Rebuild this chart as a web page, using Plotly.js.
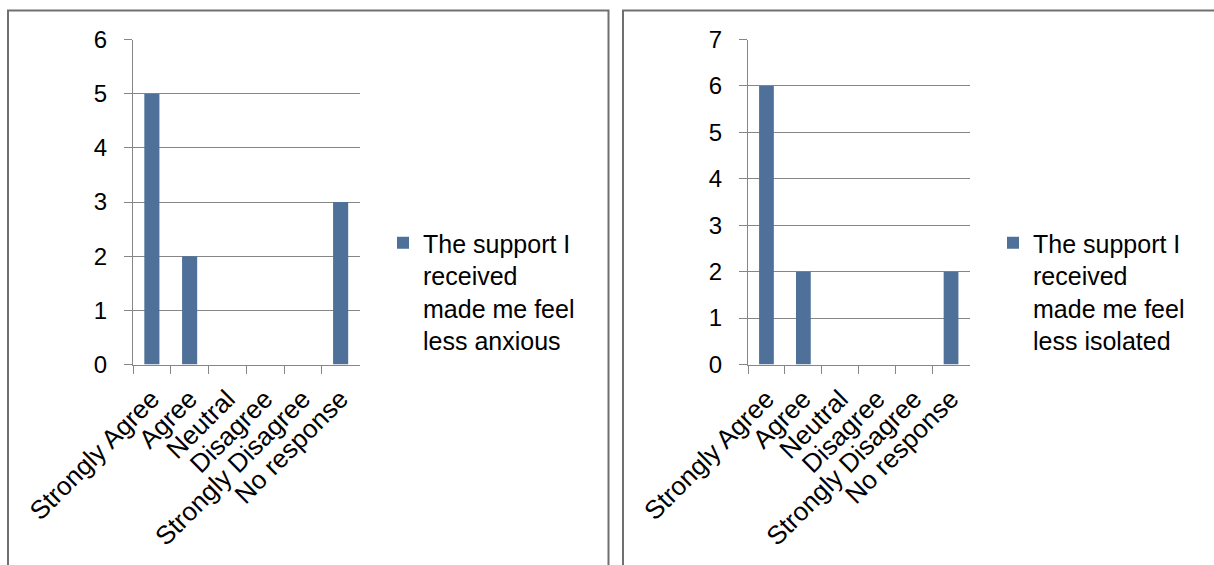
<!DOCTYPE html>
<html>
<head>
<meta charset="utf-8">
<script src="https://cdn.plot.ly/plotly-3.0.1.min.js"></script>
<style>html,body{margin:0;padding:0;background:#fff;}#chart{width:1214px;height:565px;}</style>
</head>
<body>
<div id="chart"></div>
<script>
var categories = ["Strongly Agree", "Agree", "Neutral", "Disagree", "Strongly Disagree", "No response"];
var anxiousValues = [5, 2, 0, 0, 0, 3];
var isolatedValues = [6, 2, 0, 0, 0, 2];
var anxiousName = "The support I<br>received<br>made me feel<br>less anxious";
var isolatedName = "The support I<br>received<br>made me feel<br>less isolated";
var leftTicks = [0, 1, 2, 3, 4, 5, 6];
var rightTicks = [0, 1, 2, 3, 4, 5, 6, 7];

var W = 1214, H = 565;
var barColor = "#4F7199";
var gridColor = "#868686";
var FAMILY = "Liberation Sans, Arial, sans-serif";
function f(size) { return {family: FAMILY, size: size, color: "#000"}; }

function px(x) { return x / W; }
function py(y) { return 1 - y / H; }

var traces = [
  {type: "bar", x: categories, y: anxiousValues, name: anxiousName, marker: {color: barColor},
   xaxis: "x", yaxis: "y", legend: "legend", width: 0.4, hoverinfo: "x+y"},
  {type: "bar", x: categories, y: isolatedValues, name: isolatedName, marker: {color: barColor},
   xaxis: "x2", yaxis: "y2", legend: "legend2", width: 0.4, hoverinfo: "x+y"}
];

function xax(domain, anchor) {
  return {domain: domain, anchor: anchor, type: "category", tickangle: -45, tickfont: f(26),
    showline: true, linecolor: gridColor, linewidth: 1, ticks: "outside", ticklen: 8,
    tickcolor: gridColor, tickson: "boundaries", showgrid: false, zeroline: false,
    ticklabelstandoff: 8, fixedrange: true};
}
function yax(domain, anchor, maxv, tickv) {
  return {domain: domain, anchor: anchor, range: [0, maxv], tickvals: tickv, ticktext: tickv.map(String),
    tickfont: f(24), showline: true, linecolor: gridColor, linewidth: 1, ticks: "outside", ticklen: 8,
    tickcolor: gridColor, showgrid: true, gridcolor: gridColor, gridwidth: 1, zeroline: false,
    ticklabelstandoff: 12, fixedrange: true};
}

var yDomain = [py(364.5), py(39.5)];
var layout = {
  width: W, height: H,
  margin: {l: 0, r: 0, t: 0, b: 0},
  paper_bgcolor: "#fff", plot_bgcolor: "rgba(0,0,0,0)",
  font: f(24),
  showlegend: true,
  xaxis: xax([px(133), px(359.5)], "y"),
  yaxis: yax(yDomain, "x", 6, leftTicks),
  xaxis2: xax([px(748), px(969.5)], "y2"),
  yaxis2: yax(yDomain, "x2", 7, rightTicks),
  legend: {x: px(383), y: py(220), xanchor: "left", yanchor: "top", valign: "top",
    font: f(25), bgcolor: "rgba(0,0,0,0)", itemwidth: 30, tracegroupgap: 0},
  legend2: {x: px(993), y: py(220), xanchor: "left", yanchor: "top", valign: "top",
    font: f(25), bgcolor: "rgba(0,0,0,0)", itemwidth: 30, tracegroupgap: 0},
  shapes: [
    {type: "rect", xref: "paper", yref: "paper", x0: px(8), x1: px(608.5), y0: py(640), y1: py(10.5),
     line: {color: "#707070", width: 2}, fillcolor: "rgba(0,0,0,0)", layer: "below"},
    {type: "rect", xref: "paper", yref: "paper", x0: px(623), x1: px(1300), y0: py(640), y1: py(10.5),
     line: {color: "#707070", width: 2}, fillcolor: "rgba(0,0,0,0)", layer: "below"}
  ]
};

Plotly.newPlot("chart", traces, layout, {displayModeBar: false, staticPlot: true});
</script>
</body>
</html>
